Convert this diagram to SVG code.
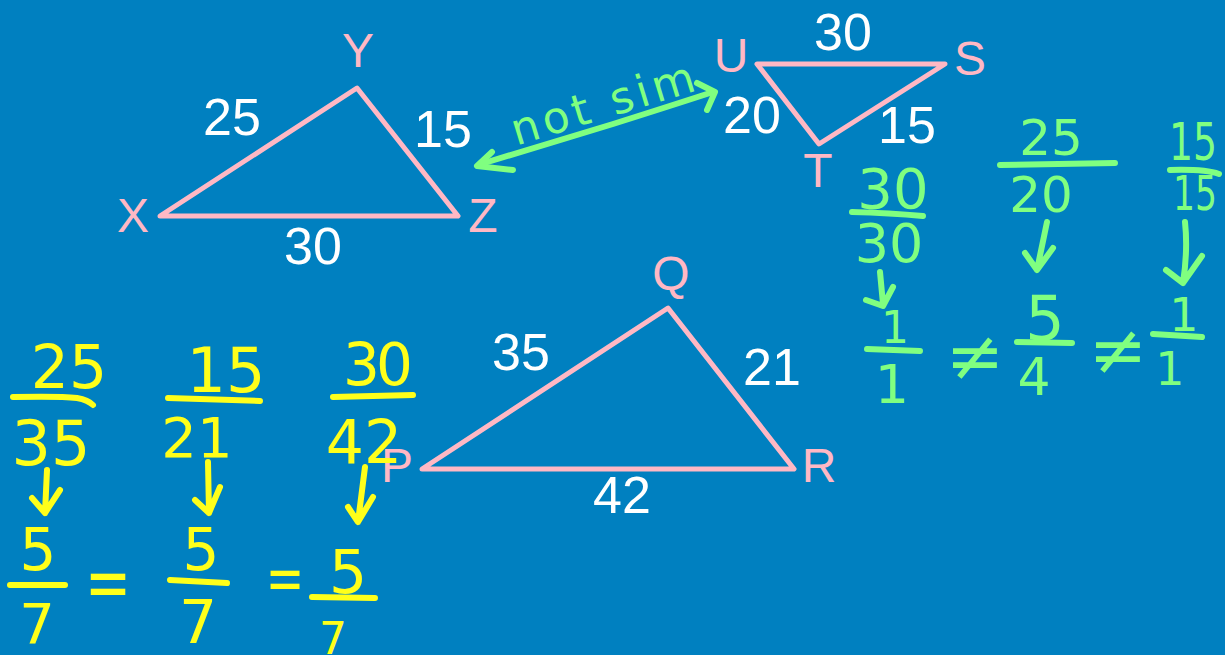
<svg xmlns="http://www.w3.org/2000/svg" width="1225" height="655" viewBox="0 0 1225 655">
<style>
.tri{fill:none;stroke:#ffb8c4;stroke-width:5;stroke-linejoin:round;stroke-linecap:round}
.vl{font-family:"Liberation Sans",Arial,sans-serif;font-size:48px;fill:#ffb8c4;text-anchor:middle}
.sl{font-family:"Liberation Sans",Arial,sans-serif;font-size:52px;fill:#ffffff;text-anchor:middle}
.hy{font-family:"DejaVu Sans",sans-serif;fill:#ffff1a;text-anchor:middle}
.hg{font-family:"DejaVu Sans",sans-serif;fill:#80ff80;text-anchor:middle}
.py{fill:none;stroke:#ffff1a;stroke-width:6;stroke-linecap:round;stroke-linejoin:round}
.pg{fill:none;stroke:#80ff80;stroke-width:6;stroke-linecap:round;stroke-linejoin:round}
</style>
<rect x="0" y="0" width="1225" height="655" fill="#0080c0"/>

<g id="triangle-XYZ">
<polygon class="tri" points="160,216 357,88 458,216"/>
<text class="vl" x="358" y="67">Y</text>
<text class="vl" x="133" y="232">X</text>
<text class="vl" x="483" y="232">Z</text>
<text class="sl" x="232" y="135">25</text>
<text class="sl" x="443" y="147">15</text>
<text class="sl" x="313" y="264">30</text>
</g>

<g id="triangle-UST">
<polygon class="tri" points="757,64 945,64 819,144"/>
<text class="vl" x="731" y="72">U</text>
<text class="vl" x="970" y="75">S</text>
<text class="vl" x="818" y="187">T</text>
<text class="sl" x="843" y="50">30</text>
<text class="sl" x="752" y="133">20</text>
<text class="sl" x="907" y="143">15</text>
</g>

<g id="triangle-PQR">
<polygon class="tri" points="422,469 668,308 794,469"/>
<text class="vl" x="671" y="290">Q</text>
<text class="vl" x="397" y="482">P</text>
<text class="vl" x="819" y="482">R</text>
<text class="sl" x="521" y="370">35</text>
<text class="sl" x="772" y="385">21</text>
<text class="sl" x="622" y="513">42</text>
</g>

<g id="connectors">
<path class="pg" d="M481,164 Q560,140 613,124 Q670,106 713,92"/>
<path class="pg" d="M492,152 L477,166 L513,170"/>
<path class="pg" d="M697,83 L715,92 L707,110"/>
<text class="hg" font-size="44" transform="translate(607,118) rotate(-17)" textLength="190" lengthAdjust="spacing">not sim</text>
</g>

<g id="ratios-XYZ-PQR">
<text class="hy" font-size="60" x="69" y="388">25</text>
<path class="py" d="M13,397 Q60,396 77,398 Q88,400 93,405"/>
<text class="hy" font-size="62" x="51" y="465">35</text>
<path class="py" d="M47,470 L45,513 M32,498 L45,513 L60,490"/>
<text class="hy" font-size="58" x="38" y="570">5</text>
<path class="py" d="M10,585 L65,585"/>
<text class="hy" font-size="56" x="37" y="643">7</text>
<text class="hy" font-size="50" transform="translate(108,608) scale(1.1,1.5)">=</text>

<text class="hy" font-size="62" x="226" y="392">15</text>
<path class="py" d="M168,398 L260,401"/>
<text class="hy" font-size="56" x="197" y="457">21</text>
<path class="py" d="M208,462 L209,513 M195,500 L209,513 L220,487"/>
<text class="hy" font-size="58" x="201" y="570">5</text>
<path class="py" d="M170,580 L227,583"/>
<text class="hy" font-size="60" x="198" y="643">7</text>
<text class="hy" font-size="46" transform="translate(285,600) scale(1,1.4)">=</text>

<text class="hy" font-size="58" x="378" y="385" textLength="70" lengthAdjust="spacing">30</text>
<path class="py" d="M333,397 L413,395"/>
<text class="hy" font-size="60" x="364" y="463">42</text>
<path class="py" d="M365,467 L358,522 M348,507 L358,522 L373,497"/>
<text class="hy" font-size="60" x="348" y="593">5</text>
<path class="py" d="M312,597 L375,598"/>
<text class="hy" font-size="44" x="333" y="654">7</text>
</g>

<g id="ratios-XYZ-UST">
<text class="hg" font-size="56" x="893" y="208">30</text>
<path class="pg" d="M852,212 Q890,213 923,216"/>
<text class="hg" font-size="54" x="889" y="262">30</text>
<path class="pg" d="M880,272 L883,304 M866,300 L883,306 L893,287"/>
<text class="hg" font-size="44" x="895" y="343">1</text>
<path class="pg" d="M867,349 L920,351"/>
<text class="hg" font-size="54" x="892" y="403">1</text>
<text class="hg" font-size="70" x="975" y="380">≠</text>

<text class="hg" font-size="50" x="1051" y="155">25</text>
<path class="pg" d="M1000,165 L1115,163"/>
<text class="hg" font-size="50" x="1041" y="212">20</text>
<path class="pg" d="M1047,222 L1037,270 M1025,253 L1037,270 L1053,248"/>
<text class="hg" font-size="62" x="1045" y="340">5</text>
<path class="pg" d="M1017,342 L1072,343"/>
<text class="hg" font-size="52" x="1034" y="395">4</text>
<text class="hg" font-size="70" x="1118" y="374">≠</text>

<text class="hg" font-size="52" x="1193" y="160" textLength="48" lengthAdjust="spacingAndGlyphs">15</text>
<path class="pg" d="M1170,170 Q1205,169 1219,174"/>
<text class="hg" font-size="48" x="1195" y="210" textLength="44" lengthAdjust="spacingAndGlyphs">15</text>
<path class="pg" d="M1185,222 Q1188,250 1183,283 M1166,270 L1183,283 L1202,256"/>
<text class="hg" font-size="46" x="1184" y="331">1</text>
<path class="pg" d="M1153,334 L1202,337"/>
<text class="hg" font-size="46" x="1170" y="385">1</text>
</g>
</svg>
